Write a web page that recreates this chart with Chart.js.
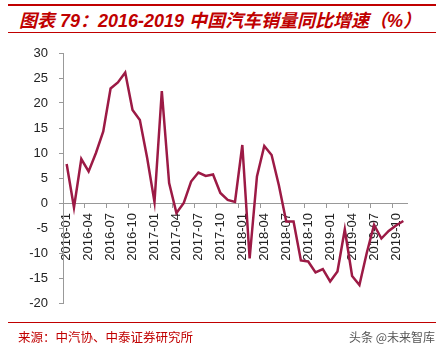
<!DOCTYPE html>
<html>
<head>
<meta charset="utf-8">
<script src="https://cdn.jsdelivr.net/npm/chart.js@4.4.1/dist/chart.umd.min.js"></script>
<style>
  html, body { margin: 0; padding: 0; background: #fff; }
  #wrap { position: relative; width: 445px; height: 354px; overflow: hidden; background: #fff; }
  #c { position: absolute; left: 0; top: 0; }
  .rule { position: absolute; background: #C00000; }
  #title { position: absolute; left: 19px; top: 9px; height: 24px; line-height: 24px; white-space: nowrap;
    font-family: "Liberation Sans", "Noto Sans CJK SC", sans-serif; font-weight: bold; font-style: italic;
    font-size: 18px; color: #C00000; }
  #source { position: absolute; left: 18px; top: 328px; line-height: 18px; white-space: nowrap;
    font-family: "Noto Sans CJK SC", sans-serif; font-size: 12.5px; color: #C00000; }
  #mark { position: absolute; right: 10px; top: 328px; line-height: 18px; white-space: nowrap;
    font-family: "Noto Sans CJK SC", sans-serif; font-size: 12px; color: #555; }
</style>
</head>
<body>
<div id="wrap">
  <div class="rule" style="left:8px;top:4px;width:428px;height:2px;"></div>
  <div id="title">图表 79：2016-2019 中国汽车销量同比增速（%）</div>
  <div class="rule" style="left:8px;top:32px;width:428px;height:1px;"></div>
  <canvas id="c" width="445" height="354"></canvas>
  <div class="rule" style="left:8px;top:322px;width:428px;height:1px;"></div>
  <div id="source">来源：中汽协、中泰证券研究所</div>
  <div id="mark">头条 @未来智库</div>
</div>
<script>
const months = [
  "2016-01","2016-02","2016-03","2016-04","2016-05","2016-06","2016-07","2016-08","2016-09","2016-10","2016-11","2016-12",
  "2017-01","2017-02","2017-03","2017-04","2017-05","2017-06","2017-07","2017-08","2017-09","2017-10","2017-11","2017-12",
  "2018-01","2018-02","2018-03","2018-04","2018-05","2018-06","2018-07","2018-08","2018-09","2018-10","2018-11","2018-12",
  "2019-01","2019-02","2019-03","2019-04","2019-05","2019-06","2019-07","2019-08","2019-09","2019-10","2019-11"
];
const salesGrowth = [
  7.8, -0.9, 8.8, 6.3, 10.0, 14.3, 22.9, 24.1, 26.1, 18.6, 16.6, 9.0,
  0.2, 22.4, 4.0, -2.0, 0.0, 4.3, 6.1, 5.4, 5.7, 2.0, 0.6, 0.2,
  11.6, -11.1, 5.3, 11.4, 9.6, 3.5, -3.7, -3.7, -11.5, -11.7, -13.9, -13.2,
  -15.7, -13.7, -5.3, -14.6, -16.4, -10.0, -4.4, -7.1, -5.6, -4.5, -3.6
];
const yMin = -20, yMax = 30, yStep = 5;
const labelEvery = 3;

const axisGray = '#999999';
const tickFont = { family: '"Liberation Sans", Arial, sans-serif', size: 13 };

new Chart(document.getElementById('c'), {
  type: 'line',
  data: {
    labels: months,
    datasets: [{
      data: salesGrowth,
      borderColor: '#9C1A45',
      borderWidth: 2.5,
      pointRadius: 0,
      tension: 0,
      fill: false
    }]
  },
  options: {
    responsive: false,
    animation: false,
    devicePixelRatio: 1,
    layout: { padding: { left: 0, top: 53, right: 38, bottom: 51 } },
    plugins: { legend: { display: false }, tooltip: { enabled: false } },
    scales: {
      x: {
        type: 'category',
        position: { y: 0 },
        offset: true,
        grid: {
          drawOnChartArea: false,
          offset: true,
          tickLength: 4,
          color: (ctx) => (ctx.index % labelEvery === 0 ? axisGray : 'rgba(0,0,0,0)')
        },
        border: { display: true, color: axisGray, width: 1 },
        ticks: {
          autoSkip: false,
          minRotation: 90,
          maxRotation: 90,
          padding: 6,
          color: '#222',
          font: tickFont,
          callback: (v, i) => (i % labelEvery === 0 ? months[i] : '')
        }
      },
      y: {
        min: yMin,
        max: yMax,
        afterFit: (s) => { s.width = 63; },
        grid: { drawOnChartArea: false, tickLength: 4, color: axisGray },
        border: { display: true, color: axisGray, width: 1 },
        ticks: { stepSize: yStep, padding: 11, color: '#222', font: tickFont }
      }
    }
  }
});
</script>
</body>
</html>
